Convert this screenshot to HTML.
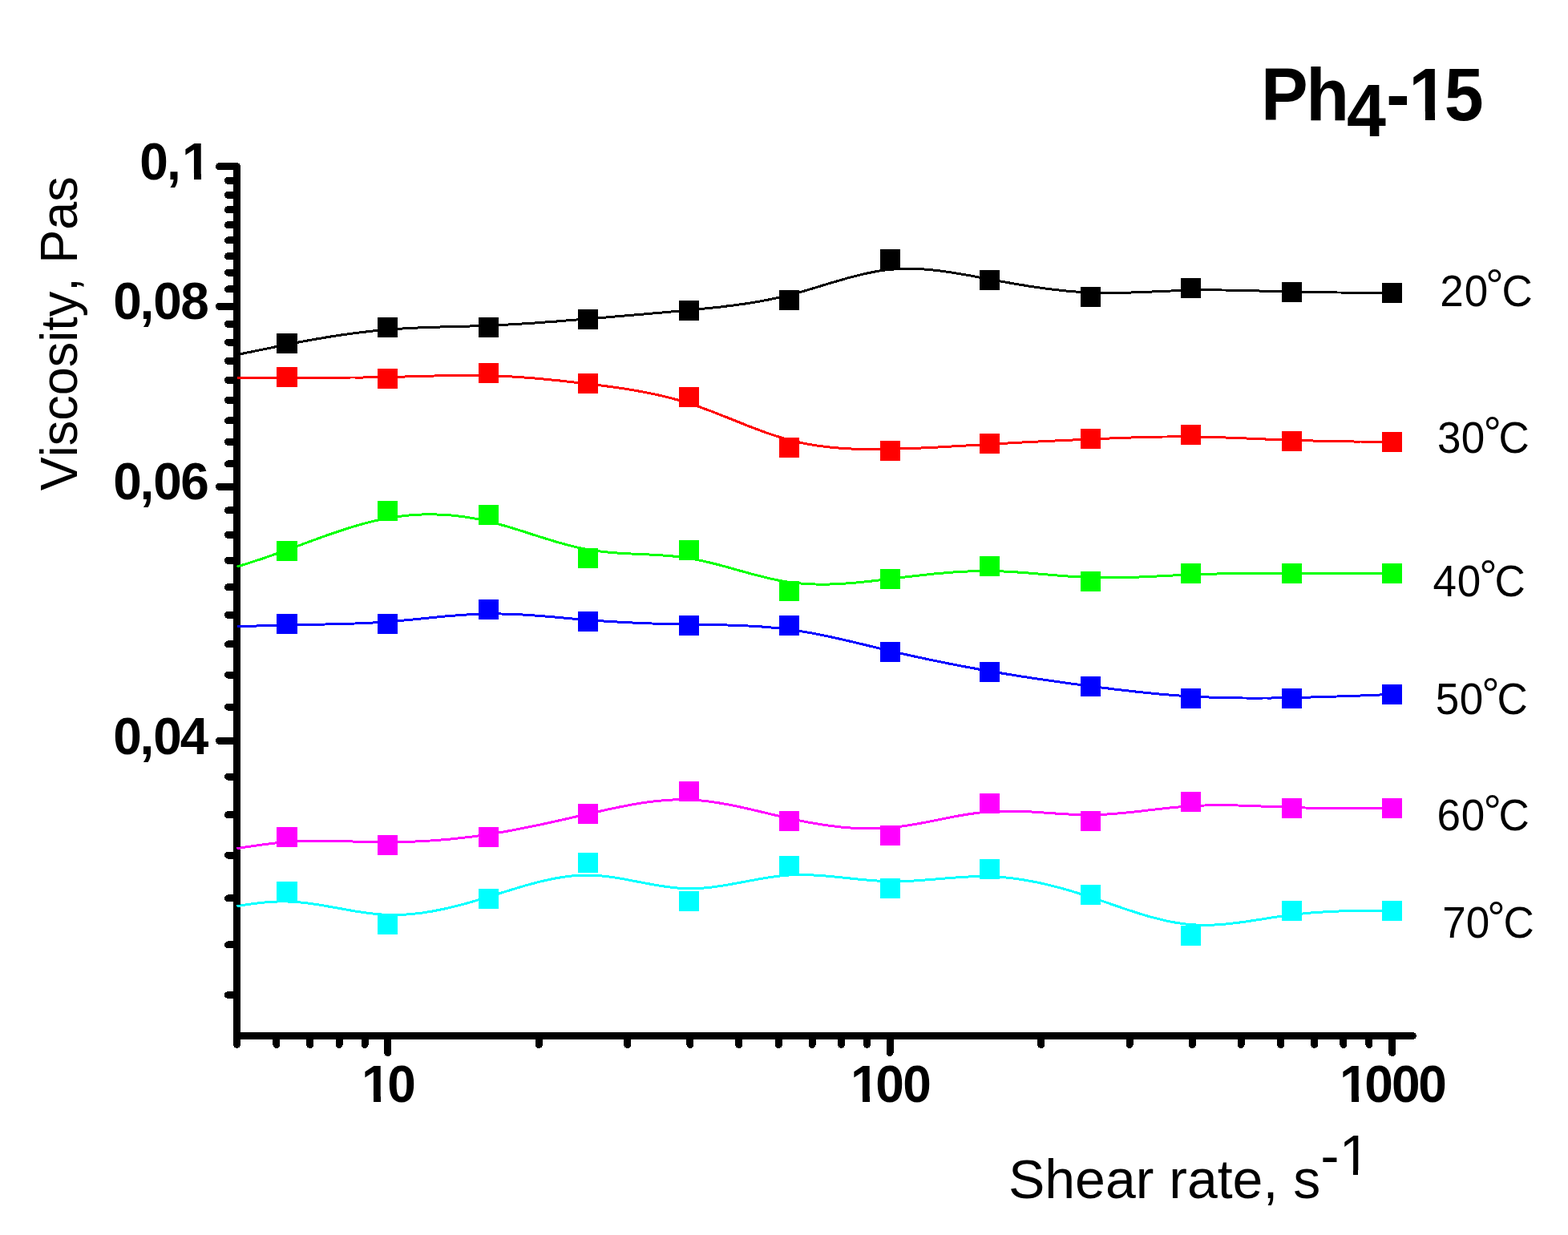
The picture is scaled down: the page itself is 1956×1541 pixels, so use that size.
<!DOCTYPE html>
<html><head><meta charset="utf-8"><title>Ph4-15 viscosity vs shear rate</title>
<style>html,body{margin:0;padding:0;background:#fff;width:1956px;height:1541px;overflow:hidden}svg{display:block}</style>
</head><body>
<svg width="1956" height="1541" viewBox="0 0 1956 1541" shape-rendering="crispEdges">
<rect x="0" y="0" width="1956" height="1541" fill="#fff"/>
<g stroke="#000" stroke-width="9" fill="none">
<line x1="295.5" y1="207.8" x2="295.5" y2="1292.5" stroke-linecap="round"/>
<line x1="295.5" y1="1292.5" x2="1762.4" y2="1292.5" stroke-linecap="round"/>
<line x1="295.5" y1="207.80" x2="273.5" y2="207.80" stroke-linecap="round"/>
<line x1="295.5" y1="382.32" x2="273.5" y2="382.32" stroke-linecap="round"/>
<line x1="295.5" y1="607.31" x2="273.5" y2="607.31" stroke-linecap="round"/>
<line x1="295.5" y1="924.41" x2="273.5" y2="924.41" stroke-linecap="round"/>
<line x1="295.5" y1="225.38" x2="284.5" y2="225.38" stroke-linecap="round"/>
<line x1="295.5" y1="243.36" x2="284.5" y2="243.36" stroke-linecap="round"/>
<line x1="295.5" y1="261.76" x2="284.5" y2="261.76" stroke-linecap="round"/>
<line x1="295.5" y1="280.60" x2="284.5" y2="280.60" stroke-linecap="round"/>
<line x1="295.5" y1="299.92" x2="284.5" y2="299.92" stroke-linecap="round"/>
<line x1="295.5" y1="319.72" x2="284.5" y2="319.72" stroke-linecap="round"/>
<line x1="295.5" y1="340.03" x2="284.5" y2="340.03" stroke-linecap="round"/>
<line x1="295.5" y1="360.89" x2="284.5" y2="360.89" stroke-linecap="round"/>
<line x1="295.5" y1="404.35" x2="284.5" y2="404.35" stroke-linecap="round"/>
<line x1="295.5" y1="427.02" x2="284.5" y2="427.02" stroke-linecap="round"/>
<line x1="295.5" y1="450.37" x2="284.5" y2="450.37" stroke-linecap="round"/>
<line x1="295.5" y1="474.43" x2="284.5" y2="474.43" stroke-linecap="round"/>
<line x1="295.5" y1="499.26" x2="284.5" y2="499.26" stroke-linecap="round"/>
<line x1="295.5" y1="524.91" x2="284.5" y2="524.91" stroke-linecap="round"/>
<line x1="295.5" y1="551.42" x2="284.5" y2="551.42" stroke-linecap="round"/>
<line x1="295.5" y1="578.86" x2="284.5" y2="578.86" stroke-linecap="round"/>
<line x1="295.5" y1="636.82" x2="284.5" y2="636.82" stroke-linecap="round"/>
<line x1="295.5" y1="667.49" x2="284.5" y2="667.49" stroke-linecap="round"/>
<line x1="295.5" y1="699.42" x2="284.5" y2="699.42" stroke-linecap="round"/>
<line x1="295.5" y1="732.71" x2="284.5" y2="732.71" stroke-linecap="round"/>
<line x1="295.5" y1="767.47" x2="284.5" y2="767.47" stroke-linecap="round"/>
<line x1="295.5" y1="803.85" x2="284.5" y2="803.85" stroke-linecap="round"/>
<line x1="295.5" y1="842.01" x2="284.5" y2="842.01" stroke-linecap="round"/>
<line x1="295.5" y1="882.13" x2="284.5" y2="882.13" stroke-linecap="round"/>
<line x1="295.5" y1="969.11" x2="284.5" y2="969.11" stroke-linecap="round"/>
<line x1="295.5" y1="1016.53" x2="284.5" y2="1016.53" stroke-linecap="round"/>
<line x1="295.5" y1="1067.00" x2="284.5" y2="1067.00" stroke-linecap="round"/>
<line x1="295.5" y1="1120.96" x2="284.5" y2="1120.96" stroke-linecap="round"/>
<line x1="295.5" y1="1178.92" x2="284.5" y2="1178.92" stroke-linecap="round"/>
<line x1="295.5" y1="1241.52" x2="284.5" y2="1241.52" stroke-linecap="round"/>
<line x1="295.50" y1="1292.5" x2="295.50" y2="1303.5" stroke-linecap="round"/>
<line x1="344.84" y1="1292.5" x2="344.84" y2="1303.5" stroke-linecap="round"/>
<line x1="386.77" y1="1292.5" x2="386.77" y2="1303.5" stroke-linecap="round"/>
<line x1="423.10" y1="1292.5" x2="423.10" y2="1303.5" stroke-linecap="round"/>
<line x1="455.14" y1="1292.5" x2="455.14" y2="1303.5" stroke-linecap="round"/>
<line x1="483.80" y1="1292.5" x2="483.80" y2="1313.5" stroke-linecap="round"/>
<line x1="672.36" y1="1292.5" x2="672.36" y2="1303.5" stroke-linecap="round"/>
<line x1="782.66" y1="1292.5" x2="782.66" y2="1303.5" stroke-linecap="round"/>
<line x1="860.92" y1="1292.5" x2="860.92" y2="1303.5" stroke-linecap="round"/>
<line x1="921.63" y1="1292.5" x2="921.63" y2="1303.5" stroke-linecap="round"/>
<line x1="971.23" y1="1292.5" x2="971.23" y2="1303.5" stroke-linecap="round"/>
<line x1="1013.16" y1="1292.5" x2="1013.16" y2="1303.5" stroke-linecap="round"/>
<line x1="1049.49" y1="1292.5" x2="1049.49" y2="1303.5" stroke-linecap="round"/>
<line x1="1081.53" y1="1292.5" x2="1081.53" y2="1303.5" stroke-linecap="round"/>
<line x1="1110.19" y1="1292.5" x2="1110.19" y2="1313.5" stroke-linecap="round"/>
<line x1="1298.75" y1="1292.5" x2="1298.75" y2="1303.5" stroke-linecap="round"/>
<line x1="1409.05" y1="1292.5" x2="1409.05" y2="1303.5" stroke-linecap="round"/>
<line x1="1487.31" y1="1292.5" x2="1487.31" y2="1303.5" stroke-linecap="round"/>
<line x1="1548.02" y1="1292.5" x2="1548.02" y2="1303.5" stroke-linecap="round"/>
<line x1="1597.62" y1="1292.5" x2="1597.62" y2="1303.5" stroke-linecap="round"/>
<line x1="1639.55" y1="1292.5" x2="1639.55" y2="1303.5" stroke-linecap="round"/>
<line x1="1675.88" y1="1292.5" x2="1675.88" y2="1303.5" stroke-linecap="round"/>
<line x1="1707.92" y1="1292.5" x2="1707.92" y2="1303.5" stroke-linecap="round"/>
<line x1="1736.58" y1="1292.5" x2="1736.58" y2="1313.5" stroke-linecap="round"/>
</g>
<path d="M295.5,442.6 L296.4,442.4 L301.6,441.4 L306.8,440.3 L312.0,439.3 L317.3,438.2 L322.5,437.1 L327.7,436.1 L332.9,435.0 L338.2,433.9 L343.4,432.8 L348.6,431.8 L353.8,430.7 L359.0,429.7 L364.3,428.6 L369.5,427.6 L374.7,426.6 L379.9,425.7 L385.2,424.7 L390.4,423.8 L395.6,422.8 L400.8,422.0 L406.0,421.1 L411.3,420.2 L416.5,419.4 L421.7,418.6 L426.9,417.8 L432.1,417.1 L437.4,416.4 L442.6,415.7 L447.8,415.0 L453.0,414.4 L458.3,413.8 L463.5,413.2 L468.7,412.6 L473.9,412.1 L479.1,411.7 L484.4,411.2 L489.6,410.8 L494.8,410.5 L500.0,410.1 L505.3,409.8 L510.5,409.5 L515.7,409.3 L520.9,409.0 L526.1,408.8 L531.4,408.6 L536.6,408.4 L541.8,408.2 L547.0,408.1 L552.2,407.9 L557.5,407.8 L562.7,407.6 L567.9,407.5 L573.1,407.4 L578.4,407.2 L583.6,407.1 L588.8,406.9 L594.0,406.8 L599.2,406.6 L604.5,406.4 L609.7,406.2 L614.9,406.0 L620.1,405.7 L625.3,405.5 L630.6,405.2 L635.8,404.9 L641.0,404.6 L646.2,404.3 L651.5,404.0 L656.7,403.7 L661.9,403.3 L667.1,403.0 L672.3,402.6 L677.6,402.2 L682.8,401.8 L688.0,401.5 L693.2,401.1 L698.5,400.7 L703.7,400.2 L708.9,399.8 L714.1,399.4 L719.3,399.0 L724.6,398.6 L729.8,398.1 L735.0,397.7 L740.2,397.3 L745.4,396.9 L750.7,396.4 L755.9,396.0 L761.1,395.6 L766.3,395.1 L771.6,394.7 L776.8,394.2 L782.0,393.8 L787.2,393.3 L792.4,392.9 L797.7,392.5 L802.9,392.0 L808.1,391.5 L813.3,391.1 L818.6,390.6 L823.8,390.2 L829.0,389.7 L834.2,389.2 L839.4,388.8 L844.7,388.3 L849.9,387.8 L855.1,387.3 L860.3,386.8 L865.5,386.3 L870.8,385.8 L876.0,385.3 L881.2,384.8 L886.4,384.3 L891.7,383.7 L896.9,383.2 L902.1,382.6 L907.3,381.9 L912.5,381.3 L917.8,380.6 L923.0,379.9 L928.2,379.2 L933.4,378.4 L938.6,377.6 L943.9,376.7 L949.1,375.8 L954.3,374.8 L959.5,373.8 L964.8,372.7 L970.0,371.6 L975.2,370.4 L980.4,369.2 L985.6,367.9 L990.9,366.5 L996.1,365.1 L1001.3,363.6 L1006.5,362.1 L1011.8,360.5 L1017.0,359.0 L1022.2,357.4 L1027.4,355.8 L1032.6,354.2 L1037.9,352.6 L1043.1,351.1 L1048.3,349.6 L1053.5,348.1 L1058.7,346.6 L1064.0,345.2 L1069.2,343.9 L1074.4,342.6 L1079.6,341.4 L1084.9,340.3 L1090.1,339.3 L1095.3,338.3 L1100.5,337.5 L1105.7,336.8 L1111.0,336.3 L1116.2,335.9 L1121.4,335.5 L1126.6,335.4 L1131.9,335.3 L1137.1,335.3 L1142.3,335.5 L1147.5,335.7 L1152.7,336.0 L1158.0,336.4 L1163.2,336.9 L1168.4,337.5 L1173.6,338.1 L1178.8,338.8 L1184.1,339.6 L1189.3,340.4 L1194.5,341.2 L1199.7,342.1 L1205.0,343.0 L1210.2,343.9 L1215.4,344.9 L1220.6,345.9 L1225.8,346.8 L1231.1,347.8 L1236.3,348.8 L1241.5,349.8 L1246.7,350.7 L1251.9,351.7 L1257.2,352.6 L1262.4,353.5 L1267.6,354.4 L1272.8,355.3 L1278.1,356.1 L1283.3,357.0 L1288.5,357.8 L1293.7,358.5 L1298.9,359.3 L1304.2,360.0 L1309.4,360.7 L1314.6,361.3 L1319.8,361.9 L1325.1,362.5 L1330.3,363.0 L1335.5,363.5 L1340.7,363.9 L1345.9,364.3 L1351.2,364.6 L1356.4,364.9 L1361.6,365.1 L1366.8,365.3 L1372.0,365.4 L1377.3,365.5 L1382.5,365.5 L1387.7,365.5 L1392.9,365.4 L1398.2,365.3 L1403.4,365.2 L1408.6,365.1 L1413.8,364.9 L1419.0,364.7 L1424.3,364.5 L1429.5,364.3 L1434.7,364.1 L1439.9,363.9 L1445.2,363.6 L1450.4,363.4 L1455.6,363.2 L1460.8,363.0 L1466.0,362.8 L1471.3,362.6 L1476.5,362.4 L1481.7,362.3 L1486.9,362.1 L1492.1,362.0 L1497.4,362.0 L1502.6,361.9 L1507.8,361.9 L1513.0,361.9 L1518.3,361.9 L1523.5,362.0 L1528.7,362.0 L1533.9,362.1 L1539.1,362.2 L1544.4,362.3 L1549.6,362.4 L1554.8,362.5 L1560.0,362.7 L1565.2,362.8 L1570.5,363.0 L1575.7,363.1 L1580.9,363.2 L1586.1,363.4 L1591.4,363.5 L1596.6,363.7 L1601.8,363.8 L1607.0,364.0 L1612.2,364.1 L1617.5,364.2 L1622.7,364.3 L1627.9,364.4 L1633.0,364.5 L1638.1,364.6 L1643.2,364.7 L1648.2,364.8 L1653.2,364.8 L1658.1,364.9 L1662.9,364.9 L1667.6,365.0 L1672.2,365.0 L1676.7,365.1 L1681.0,365.1 L1685.3,365.2 L1689.4,365.2 L1693.3,365.2 L1697.1,365.2 L1700.8,365.3 L1704.2,365.3 L1707.5,365.3 L1710.6,365.3 L1713.5,365.3 L1716.2,365.3 L1718.6,365.3 L1720.9,365.3 L1722.9,365.3 L1724.8,365.4 L1726.5,365.4 L1728.0,365.4 L1729.4,365.4 L1730.6,365.4 L1731.6,365.4 L1732.5,365.4 L1733.4,365.4 L1734.0,365.4 L1734.6,365.4 L1735.1,365.4 L1735.5,365.4 L1735.8,365.4 L1736.0,365.4 L1736.2,365.4 L1736.4,365.4 L1736.4,365.4 L1736.5,365.4 L1736.5,365.4 L1736.5,365.4 L1736.5,365.4" fill="none" stroke="#000000" stroke-width="3" stroke-linejoin="round"/>
<path d="M295.5,471.6 L296.4,471.6 L301.6,471.5 L306.8,471.5 L312.0,471.4 L317.3,471.3 L322.5,471.3 L327.7,471.2 L332.9,471.2 L338.2,471.2 L343.4,471.1 L348.6,471.1 L353.8,471.1 L359.0,471.0 L364.3,471.0 L369.5,471.0 L374.7,471.0 L379.9,471.0 L385.2,471.0 L390.4,471.0 L395.6,471.0 L400.8,471.0 L406.0,471.1 L411.3,471.1 L416.5,471.1 L421.7,471.1 L426.9,471.1 L432.1,471.1 L437.4,471.0 L442.6,471.0 L447.8,471.0 L453.0,471.0 L458.3,470.9 L463.5,470.9 L468.7,470.8 L473.9,470.7 L479.1,470.6 L484.4,470.5 L489.6,470.4 L494.8,470.3 L500.0,470.2 L505.3,470.0 L510.5,469.9 L515.7,469.7 L520.9,469.6 L526.1,469.4 L531.4,469.3 L536.6,469.1 L541.8,469.0 L547.0,468.9 L552.2,468.7 L557.5,468.6 L562.7,468.5 L567.9,468.5 L573.1,468.4 L578.4,468.4 L583.6,468.4 L588.8,468.4 L594.0,468.4 L599.2,468.5 L604.5,468.6 L609.7,468.7 L614.9,468.8 L620.1,469.0 L625.3,469.3 L630.6,469.5 L635.8,469.8 L641.0,470.1 L646.2,470.4 L651.5,470.8 L656.7,471.2 L661.9,471.6 L667.1,472.0 L672.3,472.5 L677.6,473.0 L682.8,473.5 L688.0,474.0 L693.2,474.5 L698.5,475.0 L703.7,475.6 L708.9,476.2 L714.1,476.8 L719.3,477.4 L724.6,478.0 L729.8,478.6 L735.0,479.2 L740.2,479.8 L745.4,480.5 L750.7,481.1 L755.9,481.8 L761.1,482.5 L766.3,483.2 L771.6,484.0 L776.8,484.7 L782.0,485.5 L787.2,486.4 L792.4,487.3 L797.7,488.2 L802.9,489.2 L808.1,490.2 L813.3,491.2 L818.6,492.3 L823.8,493.5 L829.0,494.7 L834.2,496.0 L839.4,497.4 L844.7,498.8 L849.9,500.3 L855.1,501.9 L860.3,503.6 L865.5,505.3 L870.8,507.1 L876.0,509.0 L881.2,510.9 L886.4,512.8 L891.7,514.9 L896.9,516.9 L902.1,519.0 L907.3,521.0 L912.5,523.1 L917.8,525.2 L923.0,527.3 L928.2,529.4 L933.4,531.5 L938.6,533.5 L943.9,535.5 L949.1,537.4 L954.3,539.3 L959.5,541.2 L964.8,542.9 L970.0,544.6 L975.2,546.2 L980.4,547.8 L985.6,549.2 L990.9,550.5 L996.1,551.7 L1001.3,552.8 L1006.5,553.9 L1011.8,554.8 L1017.0,555.7 L1022.2,556.4 L1027.4,557.1 L1032.6,557.7 L1037.9,558.3 L1043.1,558.8 L1048.3,559.2 L1053.5,559.5 L1058.7,559.8 L1064.0,560.1 L1069.2,560.2 L1074.4,560.4 L1079.6,560.5 L1084.9,560.5 L1090.1,560.5 L1095.3,560.5 L1100.5,560.5 L1105.7,560.4 L1111.0,560.3 L1116.2,560.2 L1121.4,560.0 L1126.6,559.9 L1131.9,559.7 L1137.1,559.5 L1142.3,559.3 L1147.5,559.1 L1152.7,558.8 L1158.0,558.6 L1163.2,558.3 L1168.4,558.1 L1173.6,557.8 L1178.8,557.5 L1184.1,557.2 L1189.3,556.9 L1194.5,556.6 L1199.7,556.3 L1205.0,556.0 L1210.2,555.7 L1215.4,555.4 L1220.6,555.1 L1225.8,554.8 L1231.1,554.5 L1236.3,554.2 L1241.5,553.9 L1246.7,553.6 L1251.9,553.3 L1257.2,553.0 L1262.4,552.7 L1267.6,552.4 L1272.8,552.1 L1278.1,551.9 L1283.3,551.6 L1288.5,551.3 L1293.7,551.1 L1298.9,550.8 L1304.2,550.6 L1309.4,550.3 L1314.6,550.1 L1319.8,549.8 L1325.1,549.6 L1330.3,549.3 L1335.5,549.1 L1340.7,548.9 L1345.9,548.6 L1351.2,548.4 L1356.4,548.2 L1361.6,547.9 L1366.8,547.7 L1372.0,547.5 L1377.3,547.3 L1382.5,547.1 L1387.7,546.8 L1392.9,546.6 L1398.2,546.4 L1403.4,546.3 L1408.6,546.1 L1413.8,545.9 L1419.0,545.7 L1424.3,545.6 L1429.5,545.5 L1434.7,545.3 L1439.9,545.2 L1445.2,545.1 L1450.4,545.0 L1455.6,545.0 L1460.8,544.9 L1466.0,544.9 L1471.3,544.9 L1476.5,544.9 L1481.7,544.9 L1486.9,545.0 L1492.1,545.0 L1497.4,545.1 L1502.6,545.2 L1507.8,545.3 L1513.0,545.5 L1518.3,545.6 L1523.5,545.8 L1528.7,546.0 L1533.9,546.2 L1539.1,546.4 L1544.4,546.6 L1549.6,546.8 L1554.8,547.0 L1560.0,547.2 L1565.2,547.4 L1570.5,547.6 L1575.7,547.9 L1580.9,548.1 L1586.1,548.3 L1591.4,548.5 L1596.6,548.7 L1601.8,548.9 L1607.0,549.1 L1612.2,549.3 L1617.5,549.5 L1622.7,549.6 L1627.9,549.8 L1633.0,549.9 L1638.1,550.0 L1643.2,550.2 L1648.2,550.3 L1653.2,550.4 L1658.1,550.5 L1662.9,550.6 L1667.6,550.6 L1672.2,550.7 L1676.7,550.8 L1681.0,550.8 L1685.3,550.9 L1689.4,551.0 L1693.3,551.0 L1697.1,551.0 L1700.8,551.1 L1704.2,551.1 L1707.5,551.1 L1710.6,551.2 L1713.5,551.2 L1716.2,551.2 L1718.6,551.2 L1720.9,551.3 L1722.9,551.3 L1724.8,551.3 L1726.5,551.3 L1728.0,551.3 L1729.4,551.3 L1730.6,551.3 L1731.6,551.4 L1732.5,551.4 L1733.4,551.4 L1734.0,551.4 L1734.6,551.4 L1735.1,551.4 L1735.5,551.4 L1735.8,551.4 L1736.0,551.4 L1736.2,551.4 L1736.4,551.4 L1736.4,551.4 L1736.5,551.4 L1736.5,551.4 L1736.5,551.4 L1736.5,551.4" fill="none" stroke="#ff0000" stroke-width="3" stroke-linejoin="round"/>
<path d="M295.5,707.1 L296.4,706.8 L301.6,705.3 L306.8,703.7 L312.0,702.0 L317.3,700.3 L322.5,698.6 L327.7,696.9 L332.9,695.1 L338.2,693.3 L343.4,691.4 L348.6,689.6 L353.8,687.7 L359.0,685.8 L364.3,683.9 L369.5,682.0 L374.7,680.1 L379.9,678.1 L385.2,676.2 L390.4,674.3 L395.6,672.4 L400.8,670.5 L406.0,668.6 L411.3,666.8 L416.5,665.0 L421.7,663.2 L426.9,661.5 L432.1,659.8 L437.4,658.1 L442.6,656.6 L447.8,655.0 L453.0,653.6 L458.3,652.2 L463.5,650.9 L468.7,649.6 L473.9,648.5 L479.1,647.4 L484.4,646.4 L489.6,645.5 L494.8,644.8 L500.0,644.1 L505.3,643.5 L510.5,643.0 L515.7,642.6 L520.9,642.3 L526.1,642.0 L531.4,641.9 L536.6,641.9 L541.8,641.9 L547.0,642.1 L552.2,642.3 L557.5,642.6 L562.7,643.0 L567.9,643.6 L573.1,644.1 L578.4,644.8 L583.6,645.6 L588.8,646.5 L594.0,647.4 L599.2,648.4 L604.5,649.6 L609.7,650.8 L614.9,652.1 L620.1,653.4 L625.3,654.9 L630.6,656.3 L635.8,657.9 L641.0,659.5 L646.2,661.1 L651.5,662.7 L656.7,664.4 L661.9,666.1 L667.1,667.8 L672.3,669.4 L677.6,671.1 L682.8,672.7 L688.0,674.3 L693.2,675.9 L698.5,677.4 L703.7,678.8 L708.9,680.2 L714.1,681.6 L719.3,682.8 L724.6,684.0 L729.8,685.0 L735.0,686.0 L740.2,686.8 L745.4,687.6 L750.7,688.2 L755.9,688.8 L761.1,689.3 L766.3,689.7 L771.6,690.1 L776.8,690.4 L782.0,690.7 L787.2,691.0 L792.4,691.2 L797.7,691.4 L802.9,691.7 L808.1,691.9 L813.3,692.2 L818.6,692.4 L823.8,692.8 L829.0,693.1 L834.2,693.5 L839.4,694.0 L844.7,694.6 L849.9,695.2 L855.1,695.9 L860.3,696.8 L865.5,697.7 L870.8,698.7 L876.0,699.8 L881.2,701.0 L886.4,702.2 L891.7,703.5 L896.9,704.9 L902.1,706.3 L907.3,707.7 L912.5,709.2 L917.8,710.6 L923.0,712.1 L928.2,713.5 L933.4,715.0 L938.6,716.4 L943.9,717.8 L949.1,719.1 L954.3,720.4 L959.5,721.6 L964.8,722.8 L970.0,723.9 L975.2,724.9 L980.4,725.8 L985.6,726.5 L990.9,727.2 L996.1,727.8 L1001.3,728.2 L1006.5,728.6 L1011.8,728.9 L1017.0,729.0 L1022.2,729.1 L1027.4,729.1 L1032.6,729.1 L1037.9,728.9 L1043.1,728.7 L1048.3,728.5 L1053.5,728.1 L1058.7,727.8 L1064.0,727.3 L1069.2,726.9 L1074.4,726.4 L1079.6,725.8 L1084.9,725.3 L1090.1,724.7 L1095.3,724.1 L1100.5,723.5 L1105.7,722.8 L1111.0,722.2 L1116.2,721.6 L1121.4,720.9 L1126.6,720.3 L1131.9,719.7 L1137.1,719.1 L1142.3,718.5 L1147.5,717.9 L1152.7,717.3 L1158.0,716.8 L1163.2,716.2 L1168.4,715.7 L1173.6,715.3 L1178.8,714.8 L1184.1,714.4 L1189.3,714.0 L1194.5,713.7 L1199.7,713.4 L1205.0,713.1 L1210.2,712.9 L1215.4,712.7 L1220.6,712.6 L1225.8,712.5 L1231.1,712.5 L1236.3,712.6 L1241.5,712.7 L1246.7,712.8 L1251.9,713.0 L1257.2,713.3 L1262.4,713.6 L1267.6,713.9 L1272.8,714.2 L1278.1,714.6 L1283.3,715.0 L1288.5,715.4 L1293.7,715.9 L1298.9,716.3 L1304.2,716.7 L1309.4,717.2 L1314.6,717.6 L1319.8,718.1 L1325.1,718.5 L1330.3,718.9 L1335.5,719.2 L1340.7,719.6 L1345.9,719.9 L1351.2,720.2 L1356.4,720.4 L1361.6,720.6 L1366.8,720.7 L1372.0,720.8 L1377.3,720.9 L1382.5,720.9 L1387.7,720.9 L1392.9,720.8 L1398.2,720.7 L1403.4,720.6 L1408.6,720.5 L1413.8,720.3 L1419.0,720.1 L1424.3,719.9 L1429.5,719.6 L1434.7,719.4 L1439.9,719.2 L1445.2,718.9 L1450.4,718.6 L1455.6,718.4 L1460.8,718.1 L1466.0,717.9 L1471.3,717.6 L1476.5,717.4 L1481.7,717.1 L1486.9,716.9 L1492.1,716.7 L1497.4,716.5 L1502.6,716.4 L1507.8,716.2 L1513.0,716.1 L1518.3,716.0 L1523.5,715.9 L1528.7,715.8 L1533.9,715.7 L1539.1,715.6 L1544.4,715.6 L1549.6,715.5 L1554.8,715.5 L1560.0,715.4 L1565.2,715.4 L1570.5,715.4 L1575.7,715.3 L1580.9,715.3 L1586.1,715.3 L1591.4,715.3 L1596.6,715.3 L1601.8,715.3 L1607.0,715.3 L1612.2,715.3 L1617.5,715.3 L1622.7,715.3 L1627.9,715.3 L1633.0,715.3 L1638.1,715.3 L1643.2,715.3 L1648.2,715.3 L1653.2,715.3 L1658.1,715.3 L1662.9,715.3 L1667.6,715.3 L1672.2,715.3 L1676.7,715.3 L1681.0,715.3 L1685.3,715.3 L1689.4,715.3 L1693.3,715.3 L1697.1,715.3 L1700.8,715.3 L1704.2,715.3 L1707.5,715.3 L1710.6,715.3 L1713.5,715.3 L1716.2,715.3 L1718.6,715.3 L1720.9,715.3 L1722.9,715.3 L1724.8,715.3 L1726.5,715.3 L1728.0,715.3 L1729.4,715.3 L1730.6,715.3 L1731.6,715.3 L1732.5,715.3 L1733.4,715.3 L1734.0,715.3 L1734.6,715.3 L1735.1,715.3 L1735.5,715.3 L1735.8,715.3 L1736.0,715.3 L1736.2,715.3 L1736.4,715.3 L1736.4,715.3 L1736.5,715.3 L1736.5,715.3 L1736.5,715.3 L1736.5,715.3" fill="none" stroke="#00ff00" stroke-width="3" stroke-linejoin="round"/>
<path d="M295.5,781.8 L296.4,781.8 L301.6,781.6 L306.8,781.4 L312.0,781.2 L317.3,781.1 L322.5,780.9 L327.7,780.7 L332.9,780.6 L338.2,780.4 L343.4,780.2 L348.6,780.1 L353.8,780.0 L359.0,779.8 L364.3,779.7 L369.5,779.6 L374.7,779.5 L379.9,779.4 L385.2,779.3 L390.4,779.2 L395.6,779.1 L400.8,779.1 L406.0,779.0 L411.3,778.8 L416.5,778.7 L421.7,778.6 L426.9,778.5 L432.1,778.3 L437.4,778.2 L442.6,778.0 L447.8,777.8 L453.0,777.6 L458.3,777.3 L463.5,777.1 L468.7,776.8 L473.9,776.4 L479.1,776.1 L484.4,775.7 L489.6,775.3 L494.8,774.9 L500.0,774.4 L505.3,773.9 L510.5,773.4 L515.7,772.9 L520.9,772.4 L526.1,771.9 L531.4,771.4 L536.6,770.8 L541.8,770.3 L547.0,769.8 L552.2,769.3 L557.5,768.8 L562.7,768.4 L567.9,768.0 L573.1,767.6 L578.4,767.2 L583.6,766.9 L588.8,766.6 L594.0,766.3 L599.2,766.1 L604.5,766.0 L609.7,765.9 L614.9,765.9 L620.1,765.9 L625.3,766.0 L630.6,766.1 L635.8,766.3 L641.0,766.5 L646.2,766.7 L651.5,767.0 L656.7,767.3 L661.9,767.6 L667.1,768.0 L672.3,768.4 L677.6,768.8 L682.8,769.3 L688.0,769.7 L693.2,770.1 L698.5,770.6 L703.7,771.1 L708.9,771.5 L714.1,772.0 L719.3,772.4 L724.6,772.9 L729.8,773.3 L735.0,773.7 L740.2,774.1 L745.4,774.5 L750.7,774.8 L755.9,775.2 L761.1,775.5 L766.3,775.8 L771.6,776.1 L776.8,776.4 L782.0,776.7 L787.2,776.9 L792.4,777.2 L797.7,777.4 L802.9,777.6 L808.1,777.8 L813.3,778.0 L818.6,778.1 L823.8,778.3 L829.0,778.5 L834.2,778.6 L839.4,778.7 L844.7,778.9 L849.9,779.0 L855.1,779.1 L860.3,779.2 L865.5,779.3 L870.8,779.3 L876.0,779.4 L881.2,779.5 L886.4,779.6 L891.7,779.7 L896.9,779.8 L902.1,779.9 L907.3,780.0 L912.5,780.2 L917.8,780.4 L923.0,780.5 L928.2,780.8 L933.4,781.0 L938.6,781.3 L943.9,781.6 L949.1,781.9 L954.3,782.3 L959.5,782.8 L964.8,783.2 L970.0,783.7 L975.2,784.3 L980.4,784.9 L985.6,785.6 L990.9,786.4 L996.1,787.2 L1001.3,788.0 L1006.5,788.9 L1011.8,789.8 L1017.0,790.8 L1022.2,791.8 L1027.4,792.9 L1032.6,794.0 L1037.9,795.1 L1043.1,796.2 L1048.3,797.4 L1053.5,798.6 L1058.7,799.8 L1064.0,801.0 L1069.2,802.3 L1074.4,803.5 L1079.6,804.8 L1084.9,806.1 L1090.1,807.3 L1095.3,808.6 L1100.5,809.8 L1105.7,811.1 L1111.0,812.3 L1116.2,813.5 L1121.4,814.7 L1126.6,815.9 L1131.9,817.1 L1137.1,818.2 L1142.3,819.4 L1147.5,820.5 L1152.7,821.6 L1158.0,822.8 L1163.2,823.8 L1168.4,824.9 L1173.6,826.0 L1178.8,827.0 L1184.1,828.1 L1189.3,829.1 L1194.5,830.1 L1199.7,831.1 L1205.0,832.1 L1210.2,833.1 L1215.4,834.0 L1220.6,835.0 L1225.8,835.9 L1231.1,836.8 L1236.3,837.7 L1241.5,838.6 L1246.7,839.5 L1251.9,840.4 L1257.2,841.3 L1262.4,842.1 L1267.6,842.9 L1272.8,843.8 L1278.1,844.6 L1283.3,845.4 L1288.5,846.2 L1293.7,847.0 L1298.9,847.7 L1304.2,848.5 L1309.4,849.2 L1314.6,850.0 L1319.8,850.7 L1325.1,851.5 L1330.3,852.2 L1335.5,852.9 L1340.7,853.6 L1345.9,854.3 L1351.2,855.0 L1356.4,855.7 L1361.6,856.4 L1366.8,857.0 L1372.0,857.7 L1377.3,858.4 L1382.5,859.0 L1387.7,859.7 L1392.9,860.3 L1398.2,860.9 L1403.4,861.5 L1408.6,862.1 L1413.8,862.7 L1419.0,863.3 L1424.3,863.8 L1429.5,864.4 L1434.7,864.9 L1439.9,865.4 L1445.2,865.9 L1450.4,866.4 L1455.6,866.8 L1460.8,867.2 L1466.0,867.6 L1471.3,868.0 L1476.5,868.4 L1481.7,868.7 L1486.9,869.0 L1492.1,869.3 L1497.4,869.6 L1502.6,869.8 L1507.8,870.0 L1513.0,870.2 L1518.3,870.4 L1523.5,870.5 L1528.7,870.7 L1533.9,870.8 L1539.1,870.9 L1544.4,870.9 L1549.6,871.0 L1554.8,871.0 L1560.0,871.1 L1565.2,871.1 L1570.5,871.1 L1575.7,871.0 L1580.9,871.0 L1586.1,871.0 L1591.4,870.9 L1596.6,870.8 L1601.8,870.7 L1607.0,870.6 L1612.2,870.5 L1617.5,870.4 L1622.7,870.3 L1627.9,870.2 L1633.0,870.1 L1638.1,869.9 L1643.2,869.8 L1648.2,869.6 L1653.2,869.5 L1658.1,869.3 L1662.9,869.2 L1667.6,869.0 L1672.2,868.9 L1676.7,868.7 L1681.0,868.6 L1685.3,868.4 L1689.4,868.3 L1693.3,868.1 L1697.1,868.0 L1700.8,867.8 L1704.2,867.7 L1707.5,867.6 L1710.6,867.4 L1713.5,867.3 L1716.2,867.2 L1718.6,867.1 L1720.9,867.0 L1722.9,866.9 L1724.8,866.9 L1726.5,866.8 L1728.0,866.7 L1729.4,866.7 L1730.6,866.6 L1731.6,866.6 L1732.5,866.6 L1733.4,866.5 L1734.0,866.5 L1734.6,866.5 L1735.1,866.5 L1735.5,866.4 L1735.8,866.4 L1736.0,866.4 L1736.2,866.4 L1736.4,866.4 L1736.4,866.4 L1736.5,866.4 L1736.5,866.4 L1736.5,866.4 L1736.5,866.4" fill="none" stroke="#0000ff" stroke-width="3" stroke-linejoin="round"/>
<path d="M295.5,1058.7 L296.4,1058.6 L301.6,1057.7 L306.8,1056.9 L312.0,1056.1 L317.3,1055.4 L322.5,1054.6 L327.7,1053.9 L332.9,1053.2 L338.2,1052.6 L343.4,1052.0 L348.6,1051.5 L353.8,1051.0 L359.0,1050.6 L364.3,1050.3 L369.5,1050.0 L374.7,1049.8 L379.9,1049.6 L385.2,1049.5 L390.4,1049.4 L395.6,1049.3 L400.8,1049.3 L406.0,1049.3 L411.3,1049.4 L416.5,1049.5 L421.7,1049.6 L426.9,1049.7 L432.1,1049.8 L437.4,1049.9 L442.6,1050.1 L447.8,1050.2 L453.0,1050.3 L458.3,1050.4 L463.5,1050.5 L468.7,1050.6 L473.9,1050.7 L479.1,1050.7 L484.4,1050.7 L489.6,1050.7 L494.8,1050.7 L500.0,1050.6 L505.3,1050.4 L510.5,1050.3 L515.7,1050.1 L520.9,1049.9 L526.1,1049.6 L531.4,1049.3 L536.6,1049.0 L541.8,1048.7 L547.0,1048.3 L552.2,1047.8 L557.5,1047.4 L562.7,1046.9 L567.9,1046.4 L573.1,1045.8 L578.4,1045.2 L583.6,1044.6 L588.8,1044.0 L594.0,1043.3 L599.2,1042.5 L604.5,1041.8 L609.7,1041.0 L614.9,1040.2 L620.1,1039.3 L625.3,1038.4 L630.6,1037.5 L635.8,1036.6 L641.0,1035.6 L646.2,1034.6 L651.5,1033.6 L656.7,1032.5 L661.9,1031.5 L667.1,1030.4 L672.3,1029.3 L677.6,1028.2 L682.8,1027.0 L688.0,1025.9 L693.2,1024.7 L698.5,1023.6 L703.7,1022.4 L708.9,1021.2 L714.1,1020.0 L719.3,1018.8 L724.6,1017.7 L729.8,1016.5 L735.0,1015.3 L740.2,1014.1 L745.4,1012.9 L750.7,1011.7 L755.9,1010.5 L761.1,1009.4 L766.3,1008.3 L771.6,1007.2 L776.8,1006.2 L782.0,1005.2 L787.2,1004.2 L792.4,1003.3 L797.7,1002.4 L802.9,1001.6 L808.1,1000.9 L813.3,1000.2 L818.6,999.6 L823.8,999.1 L829.0,998.6 L834.2,998.3 L839.4,998.0 L844.7,997.9 L849.9,997.8 L855.1,997.9 L860.3,998.0 L865.5,998.3 L870.8,998.6 L876.0,999.1 L881.2,999.7 L886.4,1000.3 L891.7,1001.1 L896.9,1001.9 L902.1,1002.8 L907.3,1003.7 L912.5,1004.7 L917.8,1005.8 L923.0,1006.9 L928.2,1008.0 L933.4,1009.2 L938.6,1010.4 L943.9,1011.6 L949.1,1012.9 L954.3,1014.1 L959.5,1015.4 L964.8,1016.6 L970.0,1017.8 L975.2,1019.0 L980.4,1020.2 L985.6,1021.4 L990.9,1022.5 L996.1,1023.6 L1001.3,1024.7 L1006.5,1025.7 L1011.8,1026.6 L1017.0,1027.6 L1022.2,1028.4 L1027.4,1029.2 L1032.6,1030.0 L1037.9,1030.7 L1043.1,1031.3 L1048.3,1031.9 L1053.5,1032.4 L1058.7,1032.8 L1064.0,1033.2 L1069.2,1033.5 L1074.4,1033.7 L1079.6,1033.8 L1084.9,1033.8 L1090.1,1033.8 L1095.3,1033.6 L1100.5,1033.4 L1105.7,1033.1 L1111.0,1032.6 L1116.2,1032.1 L1121.4,1031.5 L1126.6,1030.8 L1131.9,1030.0 L1137.1,1029.2 L1142.3,1028.3 L1147.5,1027.4 L1152.7,1026.4 L1158.0,1025.4 L1163.2,1024.4 L1168.4,1023.3 L1173.6,1022.3 L1178.8,1021.2 L1184.1,1020.2 L1189.3,1019.2 L1194.5,1018.2 L1199.7,1017.3 L1205.0,1016.4 L1210.2,1015.6 L1215.4,1014.9 L1220.6,1014.2 L1225.8,1013.6 L1231.1,1013.1 L1236.3,1012.7 L1241.5,1012.4 L1246.7,1012.2 L1251.9,1012.0 L1257.2,1012.0 L1262.4,1012.1 L1267.6,1012.2 L1272.8,1012.3 L1278.1,1012.6 L1283.3,1012.8 L1288.5,1013.1 L1293.7,1013.5 L1298.9,1013.8 L1304.2,1014.2 L1309.4,1014.5 L1314.6,1014.9 L1319.8,1015.2 L1325.1,1015.6 L1330.3,1015.9 L1335.5,1016.1 L1340.7,1016.4 L1345.9,1016.6 L1351.2,1016.7 L1356.4,1016.7 L1361.6,1016.7 L1366.8,1016.6 L1372.0,1016.4 L1377.3,1016.2 L1382.5,1015.9 L1387.7,1015.5 L1392.9,1015.1 L1398.2,1014.7 L1403.4,1014.2 L1408.6,1013.7 L1413.8,1013.1 L1419.0,1012.5 L1424.3,1012.0 L1429.5,1011.4 L1434.7,1010.7 L1439.9,1010.1 L1445.2,1009.5 L1450.4,1009.0 L1455.6,1008.4 L1460.8,1007.8 L1466.0,1007.3 L1471.3,1006.9 L1476.5,1006.4 L1481.7,1006.0 L1486.9,1005.7 L1492.1,1005.4 L1497.4,1005.2 L1502.6,1005.0 L1507.8,1004.9 L1513.0,1004.8 L1518.3,1004.7 L1523.5,1004.7 L1528.7,1004.7 L1533.9,1004.8 L1539.1,1004.9 L1544.4,1005.0 L1549.6,1005.1 L1554.8,1005.3 L1560.0,1005.5 L1565.2,1005.7 L1570.5,1005.9 L1575.7,1006.1 L1580.9,1006.3 L1586.1,1006.5 L1591.4,1006.7 L1596.6,1006.9 L1601.8,1007.1 L1607.0,1007.3 L1612.2,1007.5 L1617.5,1007.7 L1622.7,1007.8 L1627.9,1008.0 L1633.0,1008.1 L1638.1,1008.2 L1643.2,1008.3 L1648.2,1008.4 L1653.2,1008.5 L1658.1,1008.6 L1662.9,1008.6 L1667.6,1008.7 L1672.2,1008.7 L1676.7,1008.8 L1681.0,1008.8 L1685.3,1008.8 L1689.4,1008.9 L1693.3,1008.9 L1697.1,1008.9 L1700.8,1008.9 L1704.2,1008.9 L1707.5,1008.9 L1710.6,1008.9 L1713.5,1008.9 L1716.2,1008.9 L1718.6,1008.9 L1720.9,1008.9 L1722.9,1008.9 L1724.8,1008.9 L1726.5,1008.9 L1728.0,1008.9 L1729.4,1008.9 L1730.6,1008.9 L1731.6,1008.9 L1732.5,1008.9 L1733.4,1008.9 L1734.0,1008.9 L1734.6,1008.9 L1735.1,1008.9 L1735.5,1008.9 L1735.8,1008.9 L1736.0,1008.9 L1736.2,1008.9 L1736.4,1008.9 L1736.4,1008.9 L1736.5,1008.9 L1736.5,1008.9 L1736.5,1008.9 L1736.5,1008.9" fill="none" stroke="#ff00ff" stroke-width="3" stroke-linejoin="round"/>
<path d="M295.5,1130.8 L296.4,1130.6 L301.6,1129.8 L306.8,1128.9 L312.0,1128.2 L317.3,1127.4 L322.5,1126.8 L327.7,1126.2 L332.9,1125.8 L338.2,1125.4 L343.4,1125.1 L348.6,1124.9 L353.8,1124.9 L359.0,1125.0 L364.3,1125.2 L369.5,1125.5 L374.7,1126.0 L379.9,1126.5 L385.2,1127.2 L390.4,1127.9 L395.6,1128.6 L400.8,1129.5 L406.0,1130.4 L411.3,1131.3 L416.5,1132.2 L421.7,1133.2 L426.9,1134.1 L432.1,1135.0 L437.4,1136.0 L442.6,1136.9 L447.8,1137.7 L453.0,1138.5 L458.3,1139.2 L463.5,1139.8 L468.7,1140.4 L473.9,1140.9 L479.1,1141.2 L484.4,1141.5 L489.6,1141.6 L494.8,1141.5 L500.0,1141.4 L505.3,1141.1 L510.5,1140.8 L515.7,1140.3 L520.9,1139.7 L526.1,1139.1 L531.4,1138.3 L536.6,1137.5 L541.8,1136.6 L547.0,1135.5 L552.2,1134.5 L557.5,1133.3 L562.7,1132.1 L567.9,1130.8 L573.1,1129.5 L578.4,1128.1 L583.6,1126.7 L588.8,1125.2 L594.0,1123.7 L599.2,1122.1 L604.5,1120.6 L609.7,1119.0 L614.9,1117.4 L620.1,1115.7 L625.3,1114.1 L630.6,1112.5 L635.8,1110.9 L641.0,1109.3 L646.2,1107.7 L651.5,1106.1 L656.7,1104.6 L661.9,1103.2 L667.1,1101.8 L672.3,1100.4 L677.6,1099.2 L682.8,1098.0 L688.0,1096.9 L693.2,1095.9 L698.5,1095.0 L703.7,1094.2 L708.9,1093.5 L714.1,1092.9 L719.3,1092.5 L724.6,1092.2 L729.8,1092.1 L735.0,1092.1 L740.2,1092.2 L745.4,1092.5 L750.7,1093.0 L755.9,1093.5 L761.1,1094.2 L766.3,1094.9 L771.6,1095.8 L776.8,1096.6 L782.0,1097.6 L787.2,1098.6 L792.4,1099.6 L797.7,1100.6 L802.9,1101.6 L808.1,1102.6 L813.3,1103.5 L818.6,1104.4 L823.8,1105.3 L829.0,1106.1 L834.2,1106.8 L839.4,1107.5 L844.7,1108.0 L849.9,1108.4 L855.1,1108.6 L860.3,1108.7 L865.5,1108.7 L870.8,1108.5 L876.0,1108.2 L881.2,1107.7 L886.4,1107.2 L891.7,1106.5 L896.9,1105.8 L902.1,1105.0 L907.3,1104.2 L912.5,1103.2 L917.8,1102.3 L923.0,1101.3 L928.2,1100.3 L933.4,1099.3 L938.6,1098.4 L943.9,1097.4 L949.1,1096.5 L954.3,1095.6 L959.5,1094.8 L964.8,1094.0 L970.0,1093.3 L975.2,1092.8 L980.4,1092.3 L985.6,1091.9 L990.9,1091.7 L996.1,1091.6 L1001.3,1091.6 L1006.5,1091.7 L1011.8,1091.8 L1017.0,1092.1 L1022.2,1092.4 L1027.4,1092.8 L1032.6,1093.2 L1037.9,1093.7 L1043.1,1094.2 L1048.3,1094.7 L1053.5,1095.3 L1058.7,1095.8 L1064.0,1096.4 L1069.2,1096.9 L1074.4,1097.4 L1079.6,1097.9 L1084.9,1098.4 L1090.1,1098.8 L1095.3,1099.1 L1100.5,1099.4 L1105.7,1099.6 L1111.0,1099.7 L1116.2,1099.8 L1121.4,1099.7 L1126.6,1099.6 L1131.9,1099.4 L1137.1,1099.2 L1142.3,1098.9 L1147.5,1098.5 L1152.7,1098.1 L1158.0,1097.7 L1163.2,1097.3 L1168.4,1096.9 L1173.6,1096.4 L1178.8,1096.0 L1184.1,1095.6 L1189.3,1095.2 L1194.5,1094.8 L1199.7,1094.5 L1205.0,1094.2 L1210.2,1093.9 L1215.4,1093.7 L1220.6,1093.6 L1225.8,1093.6 L1231.1,1093.6 L1236.3,1093.8 L1241.5,1094.0 L1246.7,1094.3 L1251.9,1094.7 L1257.2,1095.2 L1262.4,1095.8 L1267.6,1096.5 L1272.8,1097.3 L1278.1,1098.1 L1283.3,1099.0 L1288.5,1100.0 L1293.7,1101.0 L1298.9,1102.1 L1304.2,1103.3 L1309.4,1104.6 L1314.6,1105.9 L1319.8,1107.2 L1325.1,1108.6 L1330.3,1110.1 L1335.5,1111.6 L1340.7,1113.2 L1345.9,1114.8 L1351.2,1116.4 L1356.4,1118.1 L1361.6,1119.8 L1366.8,1121.6 L1372.0,1123.4 L1377.3,1125.1 L1382.5,1126.9 L1387.7,1128.7 L1392.9,1130.5 L1398.2,1132.3 L1403.4,1134.1 L1408.6,1135.8 L1413.8,1137.5 L1419.0,1139.2 L1424.3,1140.8 L1429.5,1142.4 L1434.7,1143.9 L1439.9,1145.3 L1445.2,1146.6 L1450.4,1147.9 L1455.6,1149.1 L1460.8,1150.1 L1466.0,1151.1 L1471.3,1151.9 L1476.5,1152.7 L1481.7,1153.3 L1486.9,1153.7 L1492.1,1154.0 L1497.4,1154.2 L1502.6,1154.3 L1507.8,1154.2 L1513.0,1154.1 L1518.3,1153.8 L1523.5,1153.5 L1528.7,1153.0 L1533.9,1152.5 L1539.1,1151.9 L1544.4,1151.3 L1549.6,1150.6 L1554.8,1149.9 L1560.0,1149.1 L1565.2,1148.3 L1570.5,1147.5 L1575.7,1146.7 L1580.9,1145.9 L1586.1,1145.0 L1591.4,1144.2 L1596.6,1143.5 L1601.8,1142.7 L1607.0,1142.0 L1612.2,1141.3 L1617.5,1140.7 L1622.7,1140.2 L1627.9,1139.7 L1633.0,1139.2 L1638.1,1138.8 L1643.2,1138.4 L1648.2,1138.1 L1653.2,1137.8 L1658.1,1137.5 L1662.9,1137.3 L1667.6,1137.1 L1672.2,1136.9 L1676.7,1136.8 L1681.0,1136.7 L1685.3,1136.6 L1689.4,1136.5 L1693.3,1136.4 L1697.1,1136.4 L1700.8,1136.3 L1704.2,1136.3 L1707.5,1136.3 L1710.6,1136.3 L1713.5,1136.3 L1716.2,1136.3 L1718.6,1136.3 L1720.9,1136.3 L1722.9,1136.3 L1724.8,1136.3 L1726.5,1136.3 L1728.0,1136.3 L1729.4,1136.3 L1730.6,1136.3 L1731.6,1136.3 L1732.5,1136.3 L1733.4,1136.3 L1734.0,1136.3 L1734.6,1136.3 L1735.1,1136.3 L1735.5,1136.3 L1735.8,1136.3 L1736.0,1136.3 L1736.2,1136.3 L1736.4,1136.3 L1736.4,1136.3 L1736.5,1136.3 L1736.5,1136.3 L1736.5,1136.3 L1736.5,1136.3" fill="none" stroke="#00ffff" stroke-width="3" stroke-linejoin="round"/>
<rect x="345" y="416" width="26" height="25" fill="#000000"/>
<rect x="471" y="396" width="25" height="25" fill="#000000"/>
<rect x="597" y="396" width="25" height="25" fill="#000000"/>
<rect x="721" y="386" width="25" height="25" fill="#000000"/>
<rect x="847" y="375" width="25" height="25" fill="#000000"/>
<rect x="972" y="362" width="25" height="25" fill="#000000"/>
<rect x="1098" y="311" width="25" height="25" fill="#000000"/>
<rect x="1222" y="337" width="25" height="25" fill="#000000"/>
<rect x="1348" y="358" width="25" height="25" fill="#000000"/>
<rect x="1473" y="347" width="25" height="25" fill="#000000"/>
<rect x="1599" y="352" width="25" height="25" fill="#000000"/>
<rect x="1724" y="353" width="25" height="25" fill="#000000"/>
<rect x="345" y="458" width="26" height="25" fill="#ff0000"/>
<rect x="471" y="460" width="25" height="25" fill="#ff0000"/>
<rect x="597" y="453" width="25" height="25" fill="#ff0000"/>
<rect x="721" y="466" width="25" height="25" fill="#ff0000"/>
<rect x="847" y="483" width="25" height="25" fill="#ff0000"/>
<rect x="972" y="546" width="25" height="25" fill="#ff0000"/>
<rect x="1098" y="550" width="25" height="25" fill="#ff0000"/>
<rect x="1222" y="541" width="25" height="25" fill="#ff0000"/>
<rect x="1348" y="535" width="25" height="25" fill="#ff0000"/>
<rect x="1473" y="530" width="25" height="25" fill="#ff0000"/>
<rect x="1599" y="538" width="25" height="25" fill="#ff0000"/>
<rect x="1724" y="539" width="25" height="25" fill="#ff0000"/>
<rect x="345" y="675" width="26" height="25" fill="#00ff00"/>
<rect x="471" y="625" width="25" height="25" fill="#00ff00"/>
<rect x="597" y="630" width="25" height="25" fill="#00ff00"/>
<rect x="721" y="684" width="25" height="25" fill="#00ff00"/>
<rect x="847" y="674" width="25" height="25" fill="#00ff00"/>
<rect x="972" y="725" width="25" height="25" fill="#00ff00"/>
<rect x="1098" y="710" width="25" height="25" fill="#00ff00"/>
<rect x="1222" y="694" width="25" height="25" fill="#00ff00"/>
<rect x="1348" y="713" width="25" height="25" fill="#00ff00"/>
<rect x="1473" y="703" width="25" height="25" fill="#00ff00"/>
<rect x="1599" y="703" width="25" height="25" fill="#00ff00"/>
<rect x="1724" y="703" width="25" height="25" fill="#00ff00"/>
<rect x="345" y="766" width="26" height="25" fill="#0000ff"/>
<rect x="471" y="766" width="25" height="25" fill="#0000ff"/>
<rect x="597" y="748" width="25" height="25" fill="#0000ff"/>
<rect x="721" y="763" width="25" height="25" fill="#0000ff"/>
<rect x="847" y="768" width="25" height="25" fill="#0000ff"/>
<rect x="972" y="768" width="25" height="25" fill="#0000ff"/>
<rect x="1098" y="801" width="25" height="25" fill="#0000ff"/>
<rect x="1222" y="826" width="25" height="25" fill="#0000ff"/>
<rect x="1348" y="844" width="25" height="25" fill="#0000ff"/>
<rect x="1473" y="859" width="25" height="25" fill="#0000ff"/>
<rect x="1599" y="859" width="25" height="25" fill="#0000ff"/>
<rect x="1724" y="854" width="25" height="25" fill="#0000ff"/>
<rect x="345" y="1032" width="26" height="25" fill="#ff00ff"/>
<rect x="471" y="1042" width="25" height="25" fill="#ff00ff"/>
<rect x="597" y="1032" width="25" height="25" fill="#ff00ff"/>
<rect x="721" y="1003" width="25" height="25" fill="#ff00ff"/>
<rect x="847" y="975" width="25" height="25" fill="#ff00ff"/>
<rect x="972" y="1012" width="25" height="25" fill="#ff00ff"/>
<rect x="1098" y="1030" width="25" height="25" fill="#ff00ff"/>
<rect x="1222" y="990" width="25" height="25" fill="#ff00ff"/>
<rect x="1348" y="1012" width="25" height="25" fill="#ff00ff"/>
<rect x="1473" y="988" width="25" height="25" fill="#ff00ff"/>
<rect x="1599" y="996" width="25" height="25" fill="#ff00ff"/>
<rect x="1724" y="996" width="25" height="25" fill="#ff00ff"/>
<rect x="345" y="1100" width="26" height="25" fill="#00ffff"/>
<rect x="471" y="1141" width="25" height="25" fill="#00ffff"/>
<rect x="597" y="1109" width="25" height="25" fill="#00ffff"/>
<rect x="721" y="1064" width="25" height="25" fill="#00ffff"/>
<rect x="847" y="1112" width="25" height="25" fill="#00ffff"/>
<rect x="972" y="1068" width="25" height="25" fill="#00ffff"/>
<rect x="1098" y="1096" width="25" height="25" fill="#00ffff"/>
<rect x="1222" y="1072" width="25" height="25" fill="#00ffff"/>
<rect x="1348" y="1104" width="25" height="25" fill="#00ffff"/>
<rect x="1473" y="1155" width="25" height="25" fill="#00ffff"/>
<rect x="1599" y="1124" width="25" height="25" fill="#00ffff"/>
<rect x="1724" y="1124" width="25" height="25" fill="#00ffff"/>
<text x="174.20 208.08 226.90" y="0" transform="translate(0,224.1) scale(1,1.02)" font-family="'Liberation Sans', Arial, Helvetica, sans-serif" style="font-kerning:none" font-weight="bold" font-size="64">0,1</text>
<text x="141.25 174.58 191.20 225.17" y="0" transform="translate(0,398.3) scale(1,1.02)" font-family="'Liberation Sans', Arial, Helvetica, sans-serif" style="font-kerning:none" font-weight="bold" font-size="64">0,08</text>
<text x="141.25 174.58 191.20 225.19" y="0" transform="translate(0,623.2) scale(1,1.02)" font-family="'Liberation Sans', Arial, Helvetica, sans-serif" style="font-kerning:none" font-weight="bold" font-size="64">0,06</text>
<text x="141.25 174.58 191.20 224.79" y="0" transform="translate(0,941.0) scale(1,1.02)" font-family="'Liberation Sans', Arial, Helvetica, sans-serif" style="font-kerning:none" font-weight="bold" font-size="64">0,04</text>
<text x="450.95 483.15" y="0" transform="translate(0,1374.8) scale(1,1.02)" font-family="'Liberation Sans', Arial, Helvetica, sans-serif" style="font-kerning:none" font-weight="bold" font-size="64">10</text>
<text x="1060.95 1092.25 1126.25" y="0" transform="translate(0,1374.8) scale(1,1.02)" font-family="'Liberation Sans', Arial, Helvetica, sans-serif" style="font-kerning:none" font-weight="bold" font-size="64">100</text>
<text x="1670.90 1702.15 1736.10 1769.35" y="0" transform="translate(0,1374.8) scale(1,1.02)" font-family="'Liberation Sans', Arial, Helvetica, sans-serif" style="font-kerning:none" font-weight="bold" font-size="64">1000</text>
<text transform="translate(0,149.8) scale(1,1.045)" font-family="'Liberation Sans', Arial, Helvetica, sans-serif" style="font-kerning:none" font-weight="bold" font-size="88"><tspan x="1572.91 1629.18" y="0">Ph</tspan><tspan x="1679.90" y="19.43">4</tspan><tspan x="1729.29 1757.19 1801.80" y="0">-15</tspan></text>
<text transform="translate(96,612.2) rotate(-90) scale(1,1.02)" x="0" y="0" font-family="'Liberation Sans', Arial, Helvetica, sans-serif" style="font-kerning:none" font-size="63">Viscosity, Pas</text>
<text x="1257.9" y="1494.7" font-family="'Liberation Sans', Arial, Helvetica, sans-serif" style="font-kerning:none" font-size="68">Shear rate, s<tspan dy="-28.7" font-size="70">-1</tspan></text>
<text transform="translate(0,381.9) scale(1,1.03)" font-family="'Liberation Sans', Arial, Helvetica, sans-serif" style="font-kerning:none" font-size="53"><tspan x="1796.36 1826.76" y="0">20</tspan><tspan x="1853.37" y="-5.97" font-size="56">&#176;</tspan><tspan x="1873.58" y="0">C</tspan></text>
<text transform="translate(0,564.5) scale(1,1.03)" font-family="'Liberation Sans', Arial, Helvetica, sans-serif" style="font-kerning:none" font-size="53"><tspan x="1792.92 1822.76" y="0">30</tspan><tspan x="1850.42" y="-4.71" font-size="56">&#176;</tspan><tspan x="1869.53" y="0">C</tspan></text>
<text transform="translate(0,743.8) scale(1,1.03)" font-family="'Liberation Sans', Arial, Helvetica, sans-serif" style="font-kerning:none" font-size="53"><tspan x="1787.43 1817.71" y="0">40</tspan><tspan x="1845.32" y="-5.00" font-size="56">&#176;</tspan><tspan x="1864.53" y="0">C</tspan></text>
<text transform="translate(0,890.5) scale(1,1.03)" font-family="'Liberation Sans', Arial, Helvetica, sans-serif" style="font-kerning:none" font-size="53"><tspan x="1790.71 1820.76" y="0">50</tspan><tspan x="1848.32" y="-4.61" font-size="56">&#176;</tspan><tspan x="1867.48" y="0">C</tspan></text>
<text transform="translate(0,1036.4) scale(1,1.03)" font-family="'Liberation Sans', Arial, Helvetica, sans-serif" style="font-kerning:none" font-size="53"><tspan x="1792.48 1822.76" y="0">60</tspan><tspan x="1850.42" y="-4.61" font-size="56">&#176;</tspan><tspan x="1869.53" y="0">C</tspan></text>
<text transform="translate(0,1170.0) scale(1,1.03)" font-family="'Liberation Sans', Arial, Helvetica, sans-serif" style="font-kerning:none" font-size="53"><tspan x="1799.24 1828.76" y="0">70</tspan><tspan x="1855.32" y="-5.20" font-size="56">&#176;</tspan><tspan x="1875.53" y="0">C</tspan></text>
<rect x="229.43" y="216.24" width="12.26" height="9.86" fill="#fff"/>
<rect x="250.77" y="216.24" width="11.59" height="9.86" fill="#fff"/>
<rect x="453.48" y="1366.94" width="12.26" height="9.86" fill="#fff"/>
<rect x="474.82" y="1366.94" width="11.59" height="9.86" fill="#fff"/>
<rect x="1063.48" y="1366.94" width="12.26" height="9.86" fill="#fff"/>
<rect x="1084.82" y="1366.94" width="11.59" height="9.86" fill="#fff"/>
<rect x="1673.43" y="1366.94" width="12.26" height="9.86" fill="#fff"/>
<rect x="1694.77" y="1366.94" width="11.59" height="9.86" fill="#fff"/>
<rect x="1761.23" y="139.22" width="16.35" height="12.58" fill="#fff"/>
<rect x="1789.95" y="139.22" width="15.38" height="12.58" fill="#fff"/>
<rect x="1674.34" y="1459.57" width="13.62" height="8.43" fill="#fff"/>
<rect x="1694.45" y="1459.57" width="13.22" height="8.43" fill="#fff"/>
</svg>
</body></html>
